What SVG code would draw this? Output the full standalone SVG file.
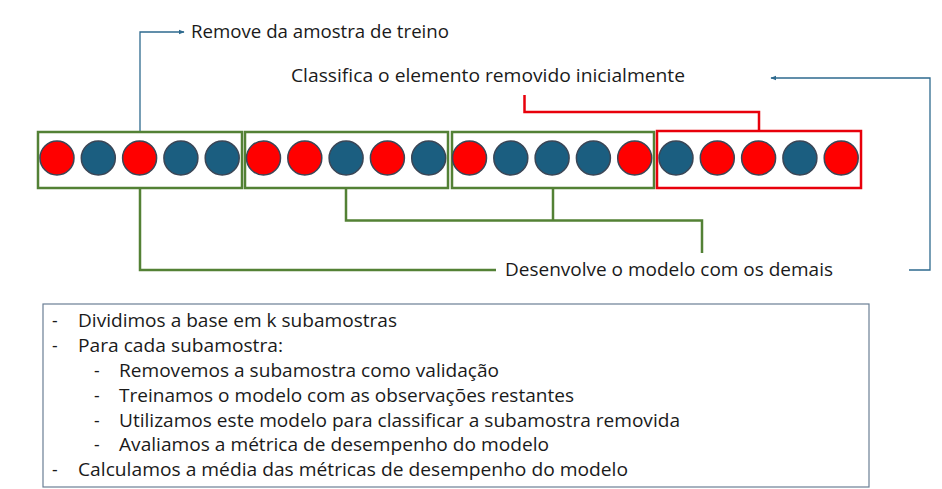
<svg xmlns="http://www.w3.org/2000/svg" width="942" height="489" viewBox="0 0 942 489">
<style>
  .t { font-family: "Open Sans", "Liberation Sans", Arial, sans-serif; font-size: 17.5px; fill: #1a1a1a; }
  .r { fill: #ff0000; stroke: #3a4656; stroke-width: 1.5; }
  .b { fill: #1b5e80; stroke: #3a4656; stroke-width: 1.5; }
  .gbox { fill: none; stroke: #538135; stroke-width: 2.5; }
  .rbox { fill: none; stroke: #e8000b; stroke-width: 2.5; }
  .gl { fill: none; stroke: #538135; stroke-width: 2.5; }
  .rl { fill: none; stroke: #e8000b; stroke-width: 2.5; }
  .bl { fill: none; stroke: #2e6a8e; stroke-width: 1.3; }
</style>
<defs>
  <marker id="ah" viewBox="0 0 10 10" refX="9" refY="5" markerWidth="6" markerHeight="6" orient="auto" markerUnits="userSpaceOnUse">
    <path d="M0,1 L10,5 L0,9 z" fill="#2e6a8e"/>
  </marker>
</defs>
<rect width="942" height="489" fill="#ffffff"/>

<g id="connectors">
  <polyline class="bl" points="140,131 140,32 184,32" marker-end="url(#ah)"/>
  <polyline class="bl" points="909,270 930,270 930,78 771,78" marker-end="url(#ah)"/>
  <polyline class="rl" points="524.5,95 524.5,112 759,112 759,131"/>
  <polyline class="gl" points="140,189 140,270 496,270"/>
  <polyline class="gl" points="346,189 346,220.5 702,220.5 702,253"/>
  <line class="gl" x1="553" y1="189" x2="553" y2="220.5"/>
</g>

<g id="fold1">
  <rect class="gbox" x="38" y="132" width="204" height="56"/>
  <circle class="r" cx="57" cy="158" r="17"/>
  <circle class="b" cx="98.3" cy="158" r="17"/>
  <circle class="r" cx="139.6" cy="158" r="17"/>
  <circle class="b" cx="180.9" cy="158" r="17"/>
  <circle class="b" cx="222.2" cy="158" r="17"/>
</g>
<g id="fold2">
  <rect class="gbox" x="245" y="132" width="203" height="56"/>
  <circle class="r" cx="263.5" cy="158" r="17"/>
  <circle class="r" cx="304.8" cy="158" r="17"/>
  <circle class="b" cx="346.1" cy="158" r="17"/>
  <circle class="r" cx="387.4" cy="158" r="17"/>
  <circle class="b" cx="428.7" cy="158" r="17"/>
</g>
<g id="fold3">
  <rect class="gbox" x="452" y="132" width="202" height="56"/>
  <circle class="r" cx="469.5" cy="158" r="17"/>
  <circle class="b" cx="510.8" cy="158" r="17"/>
  <circle class="b" cx="552.1" cy="158" r="17"/>
  <circle class="b" cx="593.4" cy="158" r="17"/>
  <circle class="r" cx="634.7" cy="158" r="17"/>
</g>
<g id="fold4">
  <rect class="rbox" x="657" y="131" width="204" height="57"/>
  <circle class="b" cx="676" cy="158" r="17"/>
  <circle class="r" cx="717.3" cy="158" r="17"/>
  <circle class="r" cx="758.6" cy="158" r="17"/>
  <circle class="b" cx="799.9" cy="158" r="17"/>
  <circle class="r" cx="841.2" cy="158" r="17"/>
</g>

<g id="label-remove"><text class="t" x="191" y="38" textLength="258" lengthAdjust="spacingAndGlyphs">Remove da amostra de treino</text></g>
<g id="label-classifica"><text class="t" x="291" y="82" textLength="394" lengthAdjust="spacingAndGlyphs">Classifica o elemento removido inicialmente</text></g>
<g id="label-desenvolve"><text class="t" x="505" y="276" textLength="328" lengthAdjust="spacingAndGlyphs">Desenvolve o modelo com os demais</text></g>

<g id="steps">
  <rect x="43" y="304" width="826" height="183" fill="#ffffff" stroke="#6b7f95" stroke-width="1.2"/>
  <text class="t" x="52" y="327">-</text><text class="t" x="78" y="327" textLength="319" lengthAdjust="spacingAndGlyphs">Dividimos a base em k subamostras</text>
  <text class="t" x="52" y="352">-</text><text class="t" x="78" y="352" textLength="205" lengthAdjust="spacingAndGlyphs">Para cada subamostra:</text>
  <text class="t" x="94" y="377">-</text><text class="t" x="119" y="377" textLength="380" lengthAdjust="spacingAndGlyphs">Removemos a subamostra como validação</text>
  <text class="t" x="94" y="402">-</text><text class="t" x="119" y="402" textLength="455" lengthAdjust="spacingAndGlyphs">Treinamos o modelo com as observações restantes</text>
  <text class="t" x="94" y="427">-</text><text class="t" x="119" y="427" textLength="561" lengthAdjust="spacingAndGlyphs">Utilizamos este modelo para classificar a subamostra removida</text>
  <text class="t" x="94" y="451">-</text><text class="t" x="119" y="451" textLength="430" lengthAdjust="spacingAndGlyphs">Avaliamos a métrica de desempenho do modelo</text>
  <text class="t" x="52" y="476">-</text><text class="t" x="78" y="476" textLength="550" lengthAdjust="spacingAndGlyphs">Calculamos a média das métricas de desempenho do modelo</text>
</g>
</svg>
